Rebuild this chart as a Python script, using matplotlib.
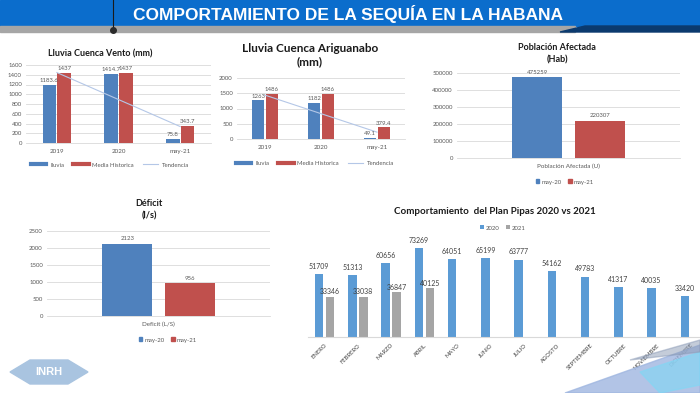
import matplotlib.pyplot as plt
import numpy as np
from matplotlib.patches import Polygon, Rectangle
from matplotlib.lines import Line2D

plt.rcParams['font.family'] = ['Lato', 'DejaVu Sans']

# data
years = ['2019', '2020', 'may-21']
vento_lluvia = [1183.6, 1414.7, 75.8]
vento_media = [1437, 1437, 343.7]
arig_lluvia = [1263, 1182, 49.1]
arig_media = [1486, 1486, 379.4]
poblacion = [475259, 220307]
deficit = [2123, 956]
periodos = ['may-20', 'may-21']
meses = ['ENERO', 'FEBRERO', 'MARZO', 'ABRIL', 'MAYO', 'JUNIO', 'JULIO',
         'AGOSTO', 'SEPTIEMBRE', 'OCTUBRE', 'NOVIEMBRE', 'DICIEMBRE']
pipas_2020 = [51709, 51313, 60656, 73269, 64051, 65199, 63777, 54162,
              49783, 41317, 40035, 33420]
pipas_2021 = [33346, 33038, 36847, 40125]

BLUE = '#4f81bd'
RED = '#c0504d'
GRID = '#d9d9d9'
TXT = '#595959'
W, H = 700, 393

fig = plt.figure(figsize=(7, 3.93), dpi=100)


def px_axes(x0, y0, x1, y1):
    # axes from pixel box (top-left origin)
    return fig.add_axes([x0 / W, 1 - y1 / H, (x1 - x0) / W, (y1 - y0) / H])


def ftext(x, y, s, **kw):
    fig.text(x / W, 1 - y / H, s, ha='center', va='center', **kw)


def style(ax, ticks):
    ax.set_yticks(ticks)
    ax.tick_params(axis='y', length=0, labelsize=4.3, labelcolor=TXT, pad=3)
    ax.tick_params(axis='x', length=0, labelsize=4.5, labelcolor=TXT, pad=4)
    ax.grid(axis='y', color=GRID, linewidth=0.6)
    ax.set_axisbelow(True)
    for s in ['top', 'right', 'left']:
        ax.spines[s].set_visible(False)
    ax.spines['bottom'].set_color(GRID)
    ax.spines['bottom'].set_linewidth(0.6)
    ax.patch.set_alpha(0)


# header band
fig.patches.append(Rectangle((0, 1 - 26 / H), 1, 26 / H, transform=fig.transFigure,
                             color='#0b6dcc', zorder=0))
fig.patches.append(Rectangle((0, 1 - 32 / H), 575 / W, 6 / H, transform=fig.transFigure,
                             color='#a6a6a6', zorder=0))
fig.patches.append(Polygon([(560 / W, 1 - 32 / H), (585 / W, 1 - 26 / H), (1, 1 - 26 / H),
                            (1, 1 - 32 / H)], transform=fig.transFigure,
                           color='#0b3a6e', zorder=0))
fig.add_artist(Line2D([113 / W, 113 / W], [1, 1 - 29 / H], color='#1a1a1a', lw=0.8))
fig.add_artist(Line2D([113 / W], [1 - 30 / H], marker='o', ms=4, color='#2a2a2a'))
ftext(348, 14, 'COMPORTAMIENTO DE LA SEQUÍA EN LA HABANA', color='white',
      fontsize=12.5, fontweight='bold', family='Liberation Sans')


def lluvia_chart(box, lluvia, media, ymax, step, title, tpos, tsize, leg_y, leg_x):
    ax = px_axes(*box)
    x = np.arange(len(years))
    ax.bar(x - 0.12, lluvia, 0.22, color=BLUE)
    ax.bar(x + 0.12, media, 0.22, color=RED)
    coef = np.polyfit(x, lluvia, 1)
    ax.plot(x, np.polyval(coef, x), color='#b4c7e7', lw=0.8)
    for xi, v in zip(x, lluvia):
        ax.text(xi - 0.12, v + ymax * 0.03, f'{v:g}', ha='center', va='bottom',
                fontsize=4.3, color=TXT)
    for xi, v in zip(x, media):
        ax.text(xi + 0.12, v + ymax * 0.03, f'{v:g}', ha='center', va='bottom',
                fontsize=4.3, color=TXT)
    ax.set_xlim(-0.5, 2.5)
    ax.set_ylim(0, ymax)
    ax.set_xticks(x, years)
    style(ax, np.arange(0, ymax + 1, step))
    ftext(tpos[0], tpos[1], title, fontsize=tsize, fontweight='bold', color='#1a1a1a',
          linespacing=1.3)
    handles = [Line2D([], [], color=BLUE, lw=3), Line2D([], [], color=RED, lw=3),
               Line2D([], [], color='#b4c7e7', lw=0.8)]
    fig.legend(handles, ['lluvia', 'Media Historica', 'Tendencia'], ncol=3,
               loc='center', bbox_to_anchor=(leg_x / W, 1 - leg_y / H), frameon=False,
               fontsize=4.3, labelcolor=TXT, handlelength=2.6, columnspacing=1.5,
               handletextpad=0.6)


lluvia_chart((26, 65, 211, 143), vento_lluvia, vento_media, 1600, 200,
             'Lluvia Cuenca Vento (mm)', (100, 54), 6.5, 165, 110)
lluvia_chart((237, 78, 405, 139), arig_lluvia, arig_media, 2000, 500,
             'Lluvia Cuenca Ariguanabo\n(mm)', (310, 55), 8.5, 163, 315)


def single_chart(box, vals, ymax, step, title, tpos, cat, leg_y, leg_x):
    ax = px_axes(*box)
    ax.bar([-0.14], [vals[0]], 0.224, color=BLUE)
    ax.bar([0.14], [vals[1]], 0.224, color=RED)
    for xi, v in zip([-0.14, 0.14], vals):
        ax.text(xi, v + ymax * 0.03, f'{v}', ha='center', va='bottom',
                fontsize=4.3, color=TXT)
    ax.set_xlim(-0.5, 0.5)
    ax.set_ylim(0, ymax)
    ax.set_xticks([0], [cat])
    style(ax, np.arange(0, ymax + 1, step))
    ftext(tpos[0], tpos[1], title, fontsize=6.5, fontweight='bold', color='#1a1a1a',
          linespacing=1.5)
    handles = [Rectangle((0, 0), 1, 1, color=BLUE), Rectangle((0, 0), 1, 1, color=RED)]
    fig.legend(handles, periodos, ncol=2, loc='center',
               bbox_to_anchor=(leg_x / W, 1 - leg_y / H), frameon=False,
               fontsize=4.3, labelcolor=TXT, handlelength=0.6, handleheight=0.6,
               columnspacing=1.0, handletextpad=0.4)


single_chart((457, 73, 680, 158), poblacion, 500000, 100000,
             'Población Afectada\n(Hab)', (557, 54), 'Población Afectada (U)', 182, 565)
single_chart((47, 231, 270, 316), deficit, 2500, 500,
             'Déficit\n(l/s)', (149, 210), 'Deficit (L/S)', 340, 168)

# plan pipas
ax = px_axes(308, 240, 707, 337)
x = np.arange(len(meses))
ax.bar(x - 0.165, pipas_2020, 0.25, color='#5b9bd5', label='2020')
x21 = np.arange(len(pipas_2021))
ax.bar(x21 + 0.165, pipas_2021, 0.25, color='#a5a5a5', label='2021')
for xi, v in zip(x, pipas_2020):
    ax.text(xi - 0.165, v + 3500, f'{v}', ha='center', va='bottom', fontsize=5,
            color='#404040')
for xi, v in zip(x21, pipas_2021):
    ax.text(xi + 0.165, v + 1500, f'{v}', ha='center', va='bottom', fontsize=5,
            color='#404040')
ax.set_xlim(-0.5, 11.5)
ax.set_ylim(0, 80000)
ax.set_yticks([])
ax.set_xticks(x, meses, rotation=45, ha='right', rotation_mode='anchor')
ax.tick_params(axis='x', length=0, labelsize=4.2, labelcolor='#404040', pad=4)
for s in ['top', 'right', 'left']:
    ax.spines[s].set_visible(False)
ax.spines['bottom'].set_color(GRID)
ax.patch.set_alpha(0)
ftext(495, 211, 'Comportamiento  del Plan Pipas 2020 vs 2021', fontsize=7,
      fontweight='bold', color='#1a1a1a')
h, l = ax.get_legend_handles_labels()
fig.legend(h, l, ncol=2, loc='center', bbox_to_anchor=(503 / W, 1 - 228 / H),
           frameon=False, fontsize=4.3, labelcolor=TXT, handlelength=0.6,
           handleheight=0.6, columnspacing=1.0, handletextpad=0.4)

# bottom right decoration
def fpoly(pts, color, alpha=1.0):
    fig.patches.append(Polygon([(px / W, 1 - py / H) for px, py in pts],
                               transform=fig.transFigure, color=color, alpha=alpha,
                               zorder=0))


fpoly([(565, 393), (700, 345), (700, 393)], '#9fb6e0', 0.8)
fpoly([(640, 372), (700, 352), (700, 385), (660, 393)], '#7fd8f5', 0.6)
fpoly([(630, 360), (700, 340), (700, 352)], '#8a9ab5', 0.5)

# INRH logo
fpoly([(10, 372), (30, 360), (68, 360), (88, 372), (68, 384), (30, 384)], '#a9c4e0')
ftext(49, 372, 'INRH', color='white', fontsize=8, fontweight='bold',
      family='Liberation Sans')

fig.savefig('out.png', dpi=100)
